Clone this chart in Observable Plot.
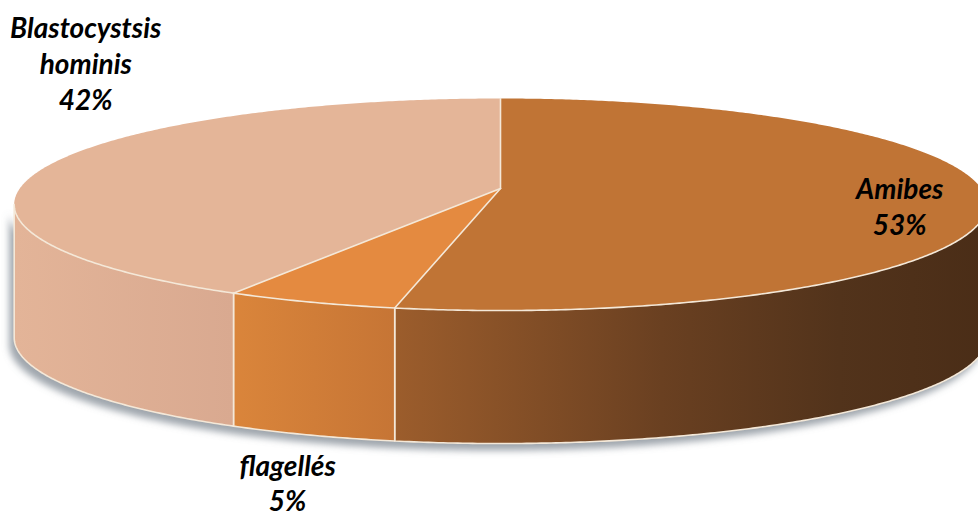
<!DOCTYPE html>
<html>
<head>
<meta charset="utf-8">
<script src="https://cdn.jsdelivr.net/npm/d3@7"></script>
<script src="https://cdn.jsdelivr.net/npm/@observablehq/plot@0.6"></script>
<style>
  html, body { margin: 0; padding: 0; background: #ffffff; }
  #chart svg { display: block; }
</style>
</head>
<body>
<div id="chart"></div>
<script>
// ---- data ----
const categories = ["Amibes", "flagellés", "Blastocystsis\nhominis"];
const values = [53, 5, 42];
const percentLabels = ["53%", "5%", "42%"];

// ---- styles ----
const topColors = ["#C07435", "#E48A40", "#E4B598"];
const sideStops = [
  [["0%", "#9C5D2C"], ["45%", "#6A4021"], ["75%", "#52331B"], ["100%", "#4A2D17"]],
  [["0%", "#DA853B"], ["100%", "#C67535"]],
  [["0%", "#E3B498"], ["100%", "#D9A990"]]
];
const edgeColor = "#F4E8D8";
const shadowColor = "#76808A";

// ---- layout / projection (pseudo-3D camera) ----
const W = 978, H = 516;
const cx = 500, cy = 188;        // projected pie center
const focal = 3105, dist = 6.459; // perspective camera
const tilt = Math.asin(0.2155);   // elevation angle
const sinT = Math.sin(tilt), cosT = Math.cos(tilt);
const thickness = 133;            // extrusion in px
const labelLayout = [
  {r: 0.8, dx: 12, dy: 9},
  {r: 1.0, dx: -23, dy: 180},
  {r: 1.0, dx: 34, dy: -101}
];

function proj(theta, r = 1) {
  const depth = dist + r * Math.cos(theta) * cosT;
  return [cx + focal * r * Math.sin(theta) / depth,
          cy - focal * r * Math.cos(theta) * sinT / depth];
}
const step = Math.PI / 360;
function arc(a0, a1) {
  const pts = [];
  const n = Math.max(2, Math.ceil((a1 - a0) / step));
  for (let i = 0; i <= n; i++) pts.push(a0 + (a1 - a0) * i / n);
  return pts;
}

// silhouette angles (where the outline is vertical)
const thetaR = Math.acos(-cosT / dist);
const thetaL = 2 * Math.PI - thetaR;

const total = d3.sum(values);
let acc = 0;
const slices = values.map((v, i) => {
  const a0 = acc / total * 2 * Math.PI;
  acc += v;
  const a1 = acc / total * 2 * Math.PI;
  return {i, name: categories[i], a0, a1, mid: (a0 + a1) / 2};
});

// top face polygons
const topPts = [];
slices.forEach(s => {
  const [x0, y0] = proj(0, 0);
  topPts.push({k: s.i, x: x0, y: y0});
  arc(s.a0, s.a1).forEach(t => { const [x, y] = proj(t); topPts.push({k: s.i, x, y}); });
  topPts.push({k: s.i, x: x0, y: y0});
});

// side polygons (visible front part)
function sidePoly(a0, a1, key) {
  const lo = Math.max(a0, thetaR), hi = Math.min(a1, thetaL);
  if (hi <= lo) return [];
  const ts = arc(lo, hi);
  const top = ts.map(t => { const [x, y] = proj(t); return {k: key, x, y}; });
  const bot = ts.slice().reverse().map(t => { const [x, y] = proj(t); return {k: key, x, y: y + thickness}; });
  return [...top, ...bot, top[0]];
}
const sides = slices.map(s => sidePoly(s.a0, s.a1, s.i));
const shadowPts = sidePoly(0, 2 * Math.PI, "shadow").map(p => ({x: p.x - 5, y: p.y + 7}));

// radial edge lines
const radial = [];
slices.forEach(s => {
  const [x0, y0] = proj(0, 0);
  const [x1, y1] = proj(s.a0);
  radial.push({k: s.i, x: x0, y: y0}, {k: s.i, x: x1, y: y1});
});

// labels
const labels = slices.map(s => {
  const L = labelLayout[s.i];
  const [x, y] = proj(s.mid, L.r);
  return {x: x + L.dx, y: y + L.dy, text: s.name + "\n" + percentLabels[s.i]};
});

// gradient + blur defs as a render-function mark
function defsMark() {
  const ns = "http://www.w3.org/2000/svg";
  const defs = document.createElementNS(ns, "defs");
  sideStops.forEach((stops, i) => {
    const g = document.createElementNS(ns, "linearGradient");
    g.setAttribute("id", "side" + i);
    g.setAttribute("x1", "0"); g.setAttribute("x2", "1");
    g.setAttribute("y1", "0"); g.setAttribute("y2", "0");
    stops.forEach(([o, c]) => {
      const st = document.createElementNS(ns, "stop");
      st.setAttribute("offset", o); st.setAttribute("stop-color", c);
      g.appendChild(st);
    });
    defs.appendChild(g);
  });
  const f = document.createElementNS(ns, "filter");
  f.setAttribute("id", "soft");
  f.setAttribute("x", "-10%"); f.setAttribute("y", "-10%");
  f.setAttribute("width", "120%"); f.setAttribute("height", "130%");
  const b = document.createElementNS(ns, "feGaussianBlur");
  b.setAttribute("stdDeviation", "3.5");
  f.appendChild(b);
  defs.appendChild(f);
  return defs;
}

const marks = [
  defsMark,
  Plot.line(shadowPts, {x: "x", y: "y", fill: shadowColor, fillOpacity: 0.7, stroke: "none"}),
];
slices.forEach(s => {
  marks.push(Plot.line(topPts.filter(p => p.k === s.i), {x: "x", y: "y", fill: topColors[s.i], stroke: "none", curve: "linear"}));
});
slices.forEach(s => {
  if (sides[s.i].length) marks.push(Plot.line(sides[s.i], {x: "x", y: "y", fill: `url(#side${s.i})`, stroke: edgeColor, strokeWidth: 1.6, strokeLinejoin: "round"}));
});
marks.push(Plot.line(radial, {x: "x", y: "y", z: "k", stroke: edgeColor, strokeWidth: 1.6}));
marks.push(Plot.text(labels, {
  x: "x", y: "y", text: "text",
  fontSize: 28, fontWeight: "bold", fontStyle: "italic",
  fontFamily: "Lato, 'Open Sans', sans-serif",
  fill: "#000", lineHeight: 1.27, textAnchor: "middle", lineAnchor: "middle"
}));

const chart = Plot.plot({
  width: W, height: H,
  margin: 0,
  style: {background: "#ffffff", overflow: "hidden"},
  x: {type: "linear", domain: [0, W], range: [0, W], axis: null},
  y: {type: "linear", domain: [0, H], range: [0, H], axis: null},
  marks
});
chart.querySelectorAll(`[fill="${shadowColor}"]`).forEach(p => p.setAttribute("filter", "url(#soft)"));
document.getElementById("chart").appendChild(chart);
</script>
</body>
</html>
